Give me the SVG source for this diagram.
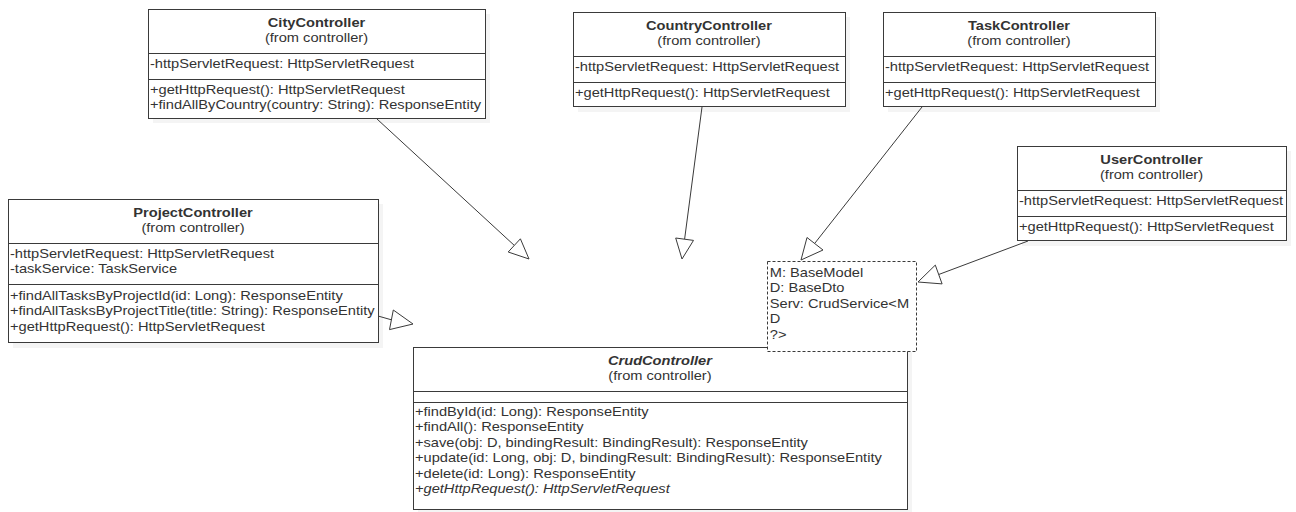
<svg xmlns="http://www.w3.org/2000/svg" width="1296" height="512" viewBox="0 0 1296 512">
  <defs>
    <style>
      .box { fill: #ffffff; stroke: #3a3a3a; stroke-width: 1; }
      .shadow { fill: #f4f4f4; }
      .sep { stroke: #3a3a3a; stroke-width: 1; }
      .note { fill: #ffffff; stroke: #3a3a3a; stroke-width: 1; stroke-dasharray: 3 2; }
      text { font-family: "Liberation Sans", Arial, sans-serif; font-size: 13.3px; fill: #333333; }
      .title { font-weight: bold; text-anchor: middle; }
      .abstract { font-style: italic; }
      .sub { text-anchor: middle; }
      .conn { stroke: #3a3a3a; stroke-width: 1; fill: none; }
      .head { fill: #ffffff; stroke: #3a3a3a; stroke-width: 1; }
    </style>
  </defs>
  <rect width="1296" height="512" fill="#ffffff"/>

  <!-- CityController -->
  <g id="CityController">
    <rect class="shadow" x="153" y="14" width="337" height="109"/>
    <rect class="box" x="148.5" y="9.5" width="337" height="109"/>
    <line class="sep" x1="148.5" y1="53.5" x2="485.5" y2="53.5"/>
    <line class="sep" x1="148.5" y1="79.5" x2="485.5" y2="79.5"/>
    <g transform="translate(148 0) scale(1.1 1)">
      <text class="title" x="153.2" y="27">CityController</text>
      <text class="sub" x="153.2" y="42">(from controller)</text>
      <text x="1.8" y="68">-httpServletRequest: HttpServletRequest</text>
      <text x="1.8" y="94">+getHttpRequest(): HttpServletRequest</text>
      <text x="1.8" y="109">+findAllByCountry(country: String): ResponseEntity</text>
    </g>
  </g>

  <!-- CountryController -->
  <g id="CountryController">
    <rect class="shadow" x="578" y="17" width="272" height="95"/>
    <rect class="box" x="573.5" y="12.5" width="272" height="94"/>
    <line class="sep" x1="573.5" y1="56.5" x2="845.5" y2="56.5"/>
    <line class="sep" x1="573.5" y1="82.5" x2="845.5" y2="82.5"/>
    <g transform="translate(573 0) scale(1.1 1)">
      <text class="title" x="123.6" y="30">CountryController</text>
      <text class="sub" x="123.6" y="45">(from controller)</text>
      <text x="1.8" y="71">-httpServletRequest: HttpServletRequest</text>
      <text x="1.8" y="97">+getHttpRequest(): HttpServletRequest</text>
    </g>
  </g>

  <!-- TaskController -->
  <g id="TaskController">
    <rect class="shadow" x="888" y="17" width="272" height="95"/>
    <rect class="box" x="883.5" y="12.5" width="272" height="94"/>
    <line class="sep" x1="883.5" y1="56.5" x2="1155.5" y2="56.5"/>
    <line class="sep" x1="883.5" y1="82.5" x2="1155.5" y2="82.5"/>
    <g transform="translate(883 0) scale(1.1 1)">
      <text class="title" x="123.6" y="30">TaskController</text>
      <text class="sub" x="123.6" y="45">(from controller)</text>
      <text x="1.8" y="71">-httpServletRequest: HttpServletRequest</text>
      <text x="1.8" y="97">+getHttpRequest(): HttpServletRequest</text>
    </g>
  </g>

  <!-- UserController -->
  <g id="UserController">
    <rect class="shadow" x="1022" y="151" width="269" height="95"/>
    <rect class="box" x="1017.5" y="146.5" width="269" height="94"/>
    <line class="sep" x1="1017.5" y1="190.5" x2="1286.5" y2="190.5"/>
    <line class="sep" x1="1017.5" y1="216.5" x2="1286.5" y2="216.5"/>
    <g transform="translate(1017 0) scale(1.1 1)">
      <text class="title" x="122.3" y="164">UserController</text>
      <text class="sub" x="122.3" y="179">(from controller)</text>
      <text x="1.8" y="205">-httpServletRequest: HttpServletRequest</text>
      <text x="1.8" y="231">+getHttpRequest(): HttpServletRequest</text>
    </g>
  </g>

  <!-- ProjectController -->
  <g id="ProjectController">
    <rect class="shadow" x="13" y="204" width="370" height="144"/>
    <rect class="box" x="8.5" y="199.5" width="370" height="143"/>
    <line class="sep" x1="8.5" y1="243.5" x2="378.5" y2="243.5"/>
    <line class="sep" x1="8.5" y1="284.5" x2="378.5" y2="284.5"/>
    <g transform="translate(8 0) scale(1.1 1)">
      <text class="title" x="168.2" y="217">ProjectController</text>
      <text class="sub" x="168.2" y="232">(from controller)</text>
      <text x="1.8" y="258">-httpServletRequest: HttpServletRequest</text>
      <text x="1.8" y="273">-taskService: TaskService</text>
      <text x="1.8" y="300">+findAllTasksByProjectId(id: Long): ResponseEntity</text>
      <text x="1.8" y="315.5">+findAllTasksByProjectTitle(title: String): ResponseEntity</text>
      <text x="1.8" y="331">+getHttpRequest(): HttpServletRequest</text>
    </g>
  </g>

  <!-- CrudController -->
  <g id="CrudController">
    <rect class="shadow" x="418" y="352" width="494" height="160"/>
    <rect class="box" x="413.5" y="347.5" width="494" height="162"/>
    <line class="sep" x1="413.5" y1="391.5" x2="907.5" y2="391.5"/>
    <line class="sep" x1="413.5" y1="402.5" x2="907.5" y2="402.5"/>
    <g transform="translate(413 0) scale(1.1 1)">
      <text class="title abstract" x="224.5" y="365">CrudController</text>
      <text class="sub" x="224.5" y="380">(from controller)</text>
      <text x="1.8" y="416">+findById(id: Long): ResponseEntity</text>
      <text x="1.8" y="431.4">+findAll(): ResponseEntity</text>
      <text x="1.8" y="446.8">+save(obj: D, bindingResult: BindingResult): ResponseEntity</text>
      <text x="1.8" y="462.2">+update(id: Long, obj: D, bindingResult: BindingResult): ResponseEntity</text>
      <text x="1.8" y="477.6">+delete(id: Long): ResponseEntity</text>
      <text class="abstract" x="1.8" y="493">+getHttpRequest(): HttpServletRequest</text>
    </g>
  </g>

  <!-- Template parameters of CrudController -->
  <g id="CrudControllerTemplate">
    <rect class="note" x="767.5" y="261.5" width="149" height="90"/>
    <g transform="translate(767 0) scale(1.1 1)">
      <text x="2.5" y="277">M: BaseModel</text>
      <text x="2.5" y="292.5">D: BaseDto</text>
      <text x="2.5" y="308">Serv: CrudService&lt;M</text>
      <text x="2.5" y="323.5">D</text>
      <text x="2.5" y="339">?&gt;</text>
    </g>
  </g>

  <!-- Generalization connectors -->
  <g id="connectors">
    <line class="conn" x1="377" y1="119" x2="514.3" y2="245.4"/>
    <polygon class="head" points="529,259 508.2,252 520.4,238.8"/>

    <line class="conn" x1="702" y1="107" x2="684.6" y2="239.2"/>
    <polygon class="head" points="682,259 675.7,238 693.5,240.4"/>

    <line class="conn" x1="922" y1="107" x2="815" y2="243"/>
    <polygon class="head" points="801,260 807,237.5 823,250"/>

    <line class="conn" x1="1028" y1="241" x2="938.7" y2="274.5"/>
    <polygon class="head" points="918,282 935.3,265.1 942.1,283.9"/>

    <line class="conn" x1="378" y1="316" x2="391.4" y2="319.8"/>
    <polygon class="head" points="413,324 389.5,329.6 393.3,310"/>
  </g>
</svg>
